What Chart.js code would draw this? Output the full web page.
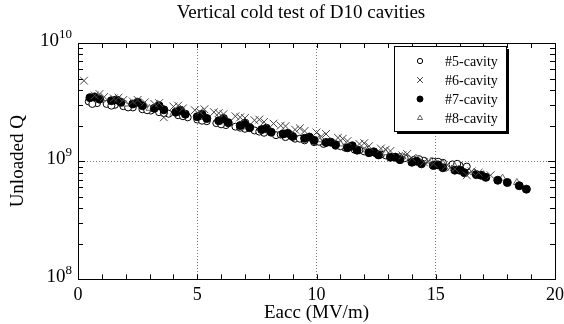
<!DOCTYPE html>
<html>
<head>
<meta charset="utf-8">
<script src="https://cdn.jsdelivr.net/npm/chart.js@4.4.0/dist/chart.umd.min.js"></script>
<style>
  body { margin: 0; background: #fff; }
  #wrap { width: 564px; height: 324px; }
</style>
</head>
<body>
<div id="wrap"><canvas id="qChart" width="564" height="324"></canvas></div>
<script>
const serif = "'Liberation Serif', 'Times New Roman', serif";

// Eacc in MV/m, Q0 values in units of 1e9, two runs per cavity
// #5-cavity
const eacc5a = [0.45, 0.8, 1.2, 1.55, 1.9, 2.3, 2.7, 3.05, 3.4, 3.8, 4.2, 4.6, 5.0, 5.4, 5.8, 6.2, 6.6, 7.0, 7.4, 7.8, 8.3, 8.7, 9.1, 9.5, 9.9, 10.3, 10.8, 11.2, 11.6, 12.0, 12.5, 12.9, 13.3, 13.7, 14.1, 14.5, 14.9, 15.3, 15.7, 16.0, 16.3];
const q5a = [3.20, 3.10, 3.05, 3.00, 2.92, 2.85, 2.75, 2.68, 2.60, 2.52, 2.45, 2.35, 2.25, 2.18, 2.10, 2.02, 1.96, 1.88, 1.82, 1.74, 1.66, 1.60, 1.55, 1.50, 1.45, 1.40, 1.35, 1.30, 1.25, 1.21, 1.16, 1.12, 1.09, 1.06, 1.03, 1.01, 0.99, 0.97, 0.94, 0.92, 0.90];
const eacc5b = [0.6, 1.4, 2.1, 2.9, 3.6, 4.4, 5.2, 6.0, 6.8, 7.6, 8.5, 9.3, 10.1, 11.0, 11.8, 12.7, 13.5, 14.3, 15.1, 15.9];
const q5b = [3.05, 2.95, 2.85, 2.70, 2.55, 2.40, 2.20, 2.05, 1.92, 1.78, 1.68, 1.55, 1.46, 1.34, 1.24, 1.14, 1.08, 1.04, 0.99, 0.95];

// #6-cavity
const eacc6a = [0.25, 0.7, 1.1, 1.5, 1.9, 2.3, 2.8, 3.2, 3.6, 4.0, 4.4, 4.9, 5.3, 5.7, 6.1, 6.6, 7.0, 7.4, 7.8, 8.2, 8.7, 9.1, 9.5, 10.0, 10.4, 10.9, 11.3, 11.8, 12.2, 12.7, 13.1, 13.6, 14.0, 14.5, 14.9, 15.4, 15.8, 16.3, 16.8, 17.3];
const q6a = [4.80, 3.60, 3.50, 3.40, 3.30, 3.20, 3.15, 3.05, 2.35, 2.90, 2.80, 2.70, 2.75, 2.60, 2.50, 2.40, 2.32, 2.22, 2.15, 2.08, 1.98, 1.85, 1.80, 1.75, 1.70, 1.58, 1.48, 1.40, 1.34, 1.28, 1.22, 1.12, 1.06, 0.98, 0.95, 0.90, 0.86, 0.76, 0.80, 0.76];
const eacc6b = [0.9, 1.7, 2.5, 3.4, 4.2, 5.1, 5.9, 6.8, 7.6, 8.5, 9.3, 10.2, 11.1, 12.0, 12.9, 13.8, 14.7, 15.6, 16.5];
const q6b = [3.70, 3.45, 3.30, 3.10, 2.95, 2.62, 2.55, 2.35, 2.25, 2.00, 1.90, 1.62, 1.55, 1.42, 1.25, 1.15, 1.00, 0.88, 0.82];

// #7-cavity
const eacc7a = [0.5, 0.9, 1.4, 1.8, 2.3, 2.7, 3.2, 3.6, 4.1, 4.5, 5.0, 5.4, 5.9, 6.3, 6.8, 7.2, 7.7, 8.1, 8.6, 9.0, 9.5, 9.9, 10.4, 10.8, 11.3, 11.7, 12.2, 12.6, 13.1, 13.5, 14.0, 14.4, 14.9, 15.3, 15.8, 16.2, 16.7, 17.1, 17.6, 18.0, 18.5, 18.8];
const q7a = [3.45, 3.35, 3.25, 3.15, 3.05, 2.95, 2.80, 2.72, 2.60, 2.50, 2.38, 2.30, 2.20, 2.12, 2.00, 1.92, 1.85, 1.76, 1.70, 1.62, 1.56, 1.50, 1.44, 1.38, 1.30, 1.24, 1.18, 1.13, 1.08, 1.03, 0.98, 0.95, 0.92, 0.88, 0.84, 0.80, 0.77, 0.73, 0.69, 0.66, 0.62, 0.58];
const eacc7b = [0.7, 1.6, 2.5, 3.4, 4.3, 5.2, 6.1, 7.0, 7.9, 8.8, 9.7, 10.6, 11.5, 12.4, 13.3, 14.2, 15.1, 16.0, 16.9];
const q7b = [3.50, 3.30, 3.15, 2.95, 2.70, 2.50, 2.30, 2.10, 1.90, 1.72, 1.60, 1.45, 1.35, 1.20, 1.08, 1.00, 0.93, 0.84, 0.76];

// #8-cavity
const eacc8 = [1.0, 2.0, 3.0, 4.0, 5.1, 6.0, 7.1, 8.0, 9.0, 10.1, 11.0, 12.1, 12.9, 13.6, 14.2, 14.8, 15.3, 15.8, 16.6, 17.0, 17.8, 18.4];
const q8 = [3.30, 3.05, 2.80, 2.55, 2.35, 2.15, 1.95, 1.80, 1.65, 1.52, 1.40, 1.25, 1.18, 1.10, 1.05, 1.00, 0.95, 0.90, 0.80, 0.77, 0.72, 0.66];

const seriesNames = ['#5-cavity', '#6-cavity', '#7-cavity', '#8-cavity'];
const xTicks = [0, 5, 10, 15, 20];
const yTicks = [1e8, 1e9, 1e10];

function toPoints(xs, qs) {
  return xs.map((x, i) => ({ x: x, y: qs[i] * 1e9 }));
}

// frame, inward minor ticks, y labels with exponents, titles and boxed legend
const decorPlugin = {
  id: 'decor',
  afterDraw(chart) {
    const { ctx, chartArea: a, scales } = chart;
    const xs = scales.x, ys = scales.y;
    ctx.save();
    ctx.strokeStyle = '#000';
    ctx.lineWidth = 1;

    ctx.beginPath();
    for (let v = 1; v < 20; v++) {
      const px = Math.round(xs.getPixelForValue(v)) + 0.5;
      ctx.moveTo(px, a.bottom); ctx.lineTo(px, a.bottom - 5);
      ctx.moveTo(px, a.top); ctx.lineTo(px, a.top + 5);
    }
    [1e8, 1e9].forEach(dec => {
      for (let m = 1; m <= 9; m++) {
        if (dec * m === 1e8) continue;
        const py = Math.round(ys.getPixelForValue(dec * m)) + 0.5;
        const len = m === 1 ? 7 : 5;
        ctx.moveTo(a.left, py); ctx.lineTo(a.left + len, py);
        ctx.moveTo(a.right, py); ctx.lineTo(a.right - len, py);
      }
    });
    ctx.stroke();
    ctx.strokeRect(Math.round(a.left) + 0.5, Math.round(a.top) + 0.5,
      Math.round(a.right - a.left), Math.round(a.bottom - a.top));

    // y tick labels 10^n
    ctx.fillStyle = '#000';
    yTicks.forEach(v => {
      const py = ys.getPixelForValue(v);
      const exp = String(Math.round(Math.log10(v)));
      const right = a.left - 6;
      ctx.font = '13px ' + serif;
      ctx.textAlign = 'right';
      ctx.textBaseline = 'alphabetic';
      const ew = ctx.measureText(exp).width;
      ctx.fillText(exp, right, py - 5);
      ctx.font = '19px ' + serif;
      ctx.fillText('10', right - ew, py + 3);
    });

    // chart title and axis titles
    ctx.font = '19px ' + serif;
    ctx.textAlign = 'center';
    ctx.textBaseline = 'middle';
    ctx.fillText('Vertical cold test of D10 cavities', 301, 13);
    ctx.fillText('Eacc (MV/m)', (a.left + a.right) / 2, 313);
    ctx.save();
    ctx.translate(18, (a.top + a.bottom) / 2);
    ctx.rotate(-Math.PI / 2);
    ctx.fillText('Unloaded Q', 0, 0);
    ctx.restore();

    // legend box with drop shadow
    const bx = 394, by = 46, bw = 112, bh = 85;
    ctx.fillStyle = '#000';
    ctx.fillRect(bx + 3, by + 3, bw, bh);
    ctx.fillStyle = '#fff';
    ctx.fillRect(bx, by, bw, bh);
    ctx.strokeRect(bx + 0.5, by + 0.5, bw, bh);
    chart.data.datasets.forEach((ds, i) => {
      const y = 61 + i * 19;
      ctx.fillStyle = ds.pointBackgroundColor;
      ctx.strokeStyle = ds.pointBorderColor;
      ctx.lineWidth = ds.pointBorderWidth;
      Chart.helpers.drawPoint(ctx, {
        pointStyle: ds.pointStyle,
        radius: ds.pointRadius * 0.75,
        rotation: 0,
        borderWidth: ds.pointBorderWidth
      }, 420, y);
      ctx.fillStyle = '#000';
      ctx.font = '14px ' + serif;
      ctx.textAlign = 'left';
      ctx.textBaseline = 'middle';
      ctx.fillText(ds.label, 445, y + 1);
    });
    ctx.restore();
  }
};

const ctx = document.getElementById('qChart').getContext('2d');
const qChart = new Chart(ctx, {
  type: 'scatter',
  data: {
    datasets: [
      {
        label: seriesNames[0],
        data: toPoints(eacc5a, q5a).concat(toPoints(eacc5b, q5b)),
        pointStyle: 'circle',
        pointRadius: 3.5,
        pointBorderWidth: 1,
        pointBorderColor: '#000',
        pointBackgroundColor: '#fff',
        order: 3
      },
      {
        label: seriesNames[1],
        data: toPoints(eacc6a, q6a).concat(toPoints(eacc6b, q6b)),
        pointStyle: 'crossRot',
        pointRadius: 5.5,
        pointBorderWidth: 1,
        pointBorderColor: '#444',
        pointBackgroundColor: '#444',
        order: 0
      },
      {
        label: seriesNames[2],
        data: toPoints(eacc7a, q7a).concat(toPoints(eacc7b, q7b)),
        pointStyle: 'circle',
        pointRadius: 4,
        pointBorderWidth: 1,
        pointBorderColor: '#000',
        pointBackgroundColor: '#000',
        order: 1
      },
      {
        label: seriesNames[3],
        data: toPoints(eacc8, q8),
        pointStyle: 'triangle',
        pointRadius: 4,
        pointBorderWidth: 1,
        pointBorderColor: '#666',
        pointBackgroundColor: '#fff',
        order: 2
      }
    ]
  },
  options: {
    responsive: false,
    devicePixelRatio: 1,
    animation: false,
    events: [],
    layout: { padding: { left: 78, right: 9, top: 43, bottom: 13 } },
    plugins: {
      legend: { display: false },
      tooltip: { enabled: false },
      title: { display: false }
    },
    scales: {
      x: {
        type: 'linear',
        min: 0,
        max: 20,
        afterBuildTicks: (scale) => { scale.ticks = xTicks.map(v => ({ value: v })); },
        afterFit: (scale) => { scale.paddingRight = 9; },
        ticks: { color: '#000', font: { family: serif, size: 18 }, padding: 5, maxRotation: 0 },
        grid: {
          drawTicks: false,
          color: (c) => (c.tick && c.tick.value > 0 && c.tick.value < 20) ? '#777' : 'rgba(0,0,0,0)'
        },
        border: { display: false, dash: [1, 2] }
      },
      y: {
        type: 'logarithmic',
        min: 1e8,
        max: 1e10,
        afterBuildTicks: (scale) => { scale.ticks = yTicks.map(v => ({ value: v })); },
        ticks: { display: false },
        grid: {
          drawTicks: false,
          color: (c) => (c.tick && c.tick.value === 1e9) ? '#777' : 'rgba(0,0,0,0)'
        },
        border: { display: false, dash: [1, 2] }
      }
    }
  },
  plugins: [decorPlugin]
});
</script>
</body>
</html>
